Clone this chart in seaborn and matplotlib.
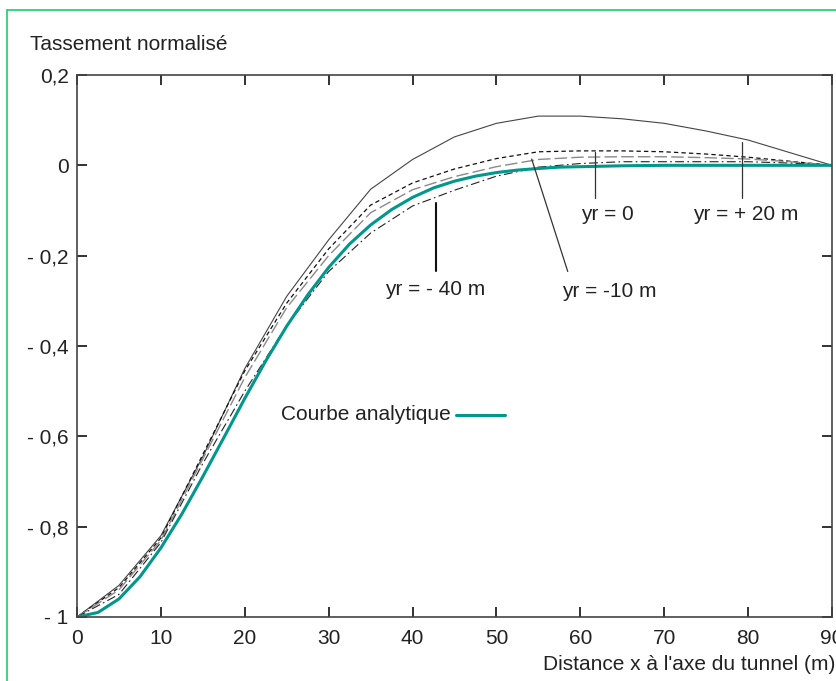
import numpy as np
import pandas as pd
import matplotlib.pyplot as plt
import seaborn as sns

# distance a l'axe du tunnel (m)
x_mes = [0, 5, 10, 15, 20, 25, 30, 35, 40, 45, 50, 55, 60, 65, 70, 75, 80, 85, 90]
# tassements normalises
yr_plus20 = [-1, -0.93, -0.82, -0.645, -0.45, -0.29, -0.165, -0.053, 0.013, 0.063,
             0.093, 0.109, 0.109, 0.103, 0.093, 0.076, 0.056, 0.028, 0]
yr_0 = [-1, -0.935, -0.825, -0.64, -0.455, -0.305, -0.185, -0.088, -0.039, -0.008,
        0.015, 0.03, 0.032, 0.032, 0.03, 0.025, 0.018, 0.009, 0]
yr_moins10 = [-1, -0.94, -0.83, -0.65, -0.47, -0.315, -0.2, -0.105, -0.054, -0.025,
              -0.003, 0.013, 0.018, 0.019, 0.019, 0.017, 0.014, 0.008, 0]
yr_moins40 = [-1, -0.95, -0.835, -0.66, -0.5, -0.355, -0.235, -0.15, -0.09, -0.055,
              -0.024, -0.004, 0.004, 0.008, 0.008, 0.008, 0.008, 0.005, 0]

x_ana = [0, 2.5, 5, 7.5, 10, 12.5, 15, 17.5, 20, 22.5, 25, 27.5, 30, 32.5, 35, 37.5,
         40, 42.5, 45, 47.5, 50, 52.5, 55, 57.5, 60, 65, 70, 80, 90]
courbe_ana = [-1, -0.99, -0.96, -0.911, -0.847, -0.772, -0.689, -0.603, -0.516, -0.433,
              -0.356, -0.287, -0.226, -0.174, -0.132, -0.098, -0.071, -0.05, -0.035,
              -0.024, -0.016, -0.0105, -0.007, -0.004, -0.003, -0.001, 0, 0, 0]

yticks = [-1, -0.8, -0.6, -0.4, -0.2, 0, 0.2]
ylabels = ['- 1', '- 0,8', '- 0,6', '- 0,4', '- 0,2', '0', '0,2']

sns.set_style('ticks')
plt.rcParams['font.family'] = ['Liberation Sans', 'DejaVu Sans']
txtcol = '#222222'
fs = 15

fig = plt.figure(figsize=(8.37, 6.81), dpi=100)
ax = fig.add_axes([77/837, 1-617/681, (832-77)/837, (617-75)/681])

df = pd.DataFrame({'x': x_mes, 'p20': yr_plus20, 'z': yr_0, 'm10': yr_moins10, 'm40': yr_moins40})
sns.lineplot(data=df, x='x', y='p20', color='#444444', lw=0.8, ax=ax)
sns.lineplot(data=df, x='x', y='z', color='#111111', lw=0.9, ax=ax)
sns.lineplot(data=df, x='x', y='m10', color='#8a8a8a', lw=1.0, ax=ax)
sns.lineplot(data=df, x='x', y='m40', color='#222222', lw=0.8, ax=ax)
ax.lines[1].set_dashes((3.5, 2.5))
ax.lines[2].set_dashes((9, 3))
ax.lines[3].set_dashes((8, 3, 1.5, 3))
sns.lineplot(x=x_ana, y=courbe_ana, color='#00978c', lw=2.2, ax=ax)

ax.set_xlim(0, 90)
ax.set_ylim(-1, 0.2)
ax.set_xticks(range(0, 91, 10))
ax.set_yticks(yticks)
ax.set_yticklabels(ylabels)
ax.set_xlabel('')
ax.set_ylabel('')
ax.tick_params(direction='in', top=True, right=True, length=7, width=1.3,
               labelsize=fs, colors='#222222')
ax.tick_params(axis='y', pad=6)
ax.tick_params(axis='x', pad=9)
for s in ax.spines.values():
    s.set_linewidth(1.2)
    s.set_color('#444444')

# reperes et etiquettes
ax.plot([79.3, 79.3], [0.052, -0.072], color='#333333', lw=0.9)
ax.plot([61.7, 61.7], [0.03, -0.072], color='#333333', lw=0.9)
ax.plot([42.8, 42.8], [-0.083, -0.235], color='#111111', lw=1.5)
ax.plot([54.2, 58.5], [0.014, -0.235], color='#333333', lw=0.9)
ax.text(79.7, -0.108, 'yr = + 20 m', ha='center', va='center', fontsize=fs, color=txtcol)
ax.text(63.2, -0.108, 'yr = 0', ha='center', va='center', fontsize=fs, color=txtcol)
ax.text(42.7, -0.274, 'yr = - 40 m', ha='center', va='center', fontsize=fs, color=txtcol)
ax.text(63.5, -0.279, 'yr = -10 m', ha='center', va='center', fontsize=fs, color=txtcol)
ax.text(44.6, -0.552, 'Courbe analytique', ha='right', va='center', fontsize=fs, color=txtcol)
ax.plot([45.2, 51.0], [-0.552, -0.552], color='#00978c', lw=2.2)

fig.text(30/837, 1-45/681, 'Tassement normalisé', ha='left', va='center', fontsize=fs, color=txtcol)
fig.text(835/837, 1-665/681, "Distance x à l'axe du tunnel (m)", ha='right', va='center',
         fontsize=fs, color=txtcol)

# cadre vert
fig.add_artist(plt.Line2D([7/837, 1], [1-10/681, 1-10/681], color='#22cc66', lw=1.2))
fig.add_artist(plt.Line2D([7/837, 7/837], [0, 1-10/681], color='#22cc66', lw=1.2))

fig.savefig('out.png', dpi=100)
